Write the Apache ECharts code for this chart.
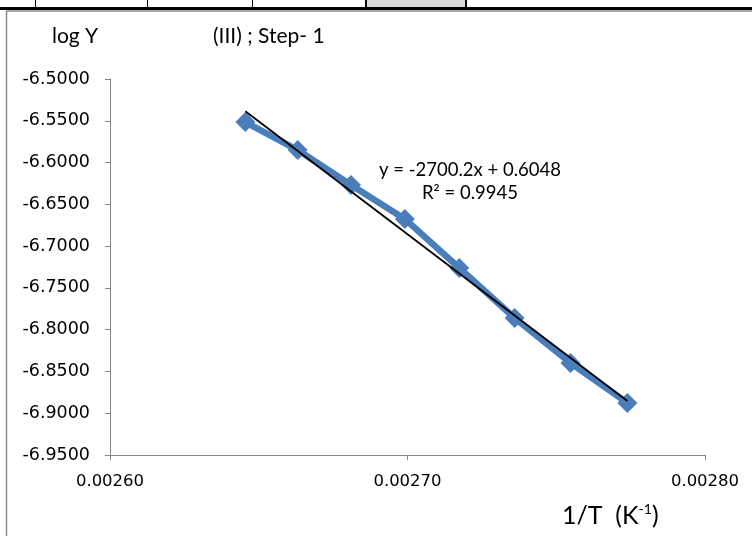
<!DOCTYPE html>
<html>
<head>
<meta charset="utf-8">
<script src="https://cdn.jsdelivr.net/npm/echarts@6/dist/echarts.min.js"></script>
<style>
  html, body { margin: 0; padding: 0; background: #fff; }
  #chart { width: 752px; height: 536px; }
</style>
</head>
<body>
<div id="chart"></div>
<script>
// values
const invT = [0.0026455, 0.0026631, 0.0026810, 0.0026991, 0.0027174, 0.0027360, 0.0027548, 0.0027739];
const logY = [-6.5515, -6.5850, -6.6269, -6.6675, -6.7262, -6.7860, -6.8399, -6.8877];

// linear trendline given on the chart
const trendSlope = -2700.2;
const trendIntercept = 0.6048;
const eqLine = 'y = -2700.2x + 0.6048';
const r2Line = 'R² = 0.9945';

const yTitle = 'log Y';
const chartTitle = '(III) ; Step- 1';

const blue = '#4a7ebb';
const axisGrey = '#868686';

const points = invT.map((x, i) => [x, logY[i]]);
const xFirst = invT[0];
const xLast = invT[invT.length - 1];
const trend = [
  [xFirst, trendSlope * xFirst + trendIntercept],
  [xLast, trendSlope * xLast + trendIntercept]
];

const chart = echarts.init(document.getElementById('chart'));

chart.setOption({
  backgroundColor: '#fff',
  animation: false,
  grid: {left: 110, top: 79, right: 47, bottom: 81},
  xAxis: {
    type: 'value',
    min: 0.0026,
    max: 0.0028,
    interval: 0.0001,
    splitLine: {show: false},
    axisLine: {show: true, lineStyle: {color: axisGrey, width: 1}},
    axisTick: {show: true, inside: false, length: 5, lineStyle: {color: axisGrey}},
    axisLabel: {
      margin: 18,
      color: '#000',
      fontFamily: 'DejaVu Sans',
      fontSize: 16.5,
      formatter: v => v.toFixed(5)
    }
  },
  yAxis: {
    type: 'value',
    min: -6.95,
    max: -6.5,
    interval: 0.05,
    splitLine: {show: false},
    axisLine: {show: true, lineStyle: {color: axisGrey, width: 1}},
    axisTick: {show: true, inside: false, length: 5, lineStyle: {color: axisGrey}},
    axisLabel: {
      margin: 20,
      color: '#000',
      fontFamily: 'DejaVu Sans',
      fontSize: 17.5,
      formatter: v => v.toFixed(4)
    }
  },
  series: [
    {
      type: 'line',
      data: points,
      symbol: 'diamond',
      symbolSize: 20,
      lineStyle: {color: blue, width: 6.5},
      itemStyle: {color: blue},
      z: 2
    },
    {
      type: 'line',
      data: trend,
      symbol: 'none',
      lineStyle: {color: '#000', width: 1.8},
      z: 3
    }
  ],
  graphic: [
    // table cells above the chart
    {type: 'rect', shape: {x: 366, y: 0, width: 100, height: 7}, style: {fill: '#d9d9d9'}},
    {type: 'line', shape: {x1: 0, y1: 8.5, x2: 752, y2: 8.5}, style: {stroke: '#000', lineWidth: 3}},
    {type: 'line', shape: {x1: 35.5, y1: 0, x2: 35.5, y2: 8}, style: {stroke: '#000', lineWidth: 1}},
    {type: 'line', shape: {x1: 147.5, y1: 0, x2: 147.5, y2: 8}, style: {stroke: '#000', lineWidth: 1}},
    {type: 'line', shape: {x1: 252.5, y1: 0, x2: 252.5, y2: 8}, style: {stroke: '#000', lineWidth: 1}},
    {type: 'line', shape: {x1: 366, y1: 0, x2: 366, y2: 8}, style: {stroke: '#000', lineWidth: 2}},
    {type: 'line', shape: {x1: 466, y1: 0, x2: 466, y2: 8}, style: {stroke: '#000', lineWidth: 2}},
    // chart frame
    {type: 'line', shape: {x1: 6, y1: 11, x2: 752, y2: 11}, style: {stroke: '#8c8c8c', lineWidth: 1.5}},
    {type: 'line', shape: {x1: 6.5, y1: 11, x2: 6.5, y2: 536}, style: {stroke: '#8c8c8c', lineWidth: 1.5}},
    // titles
    {type: 'text', left: 52, top: 26, style: {text: yTitle, fill: '#000', font: '21px Lato'}},
    {type: 'text', left: 213, top: 26, style: {text: chartTitle, fill: '#000', font: '21px Lato'}},
    // trendline label
    {type: 'text', x: 470, y: 170, style: {text: eqLine, fill: '#000', font: '18.5px Lato', align: 'center', verticalAlign: 'middle'}},
    {type: 'text', x: 470, y: 193, style: {text: r2Line, fill: '#000', font: '18.5px Lato', align: 'center', verticalAlign: 'middle'}},
    // x axis name
    {
      type: 'text', left: 562, top: 502,
      style: {
        text: '{a|1/T  (K}{s|-1}{a|)}',
        rich: {
          a: {fontFamily: 'Lato', fontSize: 25, fill: '#000', verticalAlign: 'bottom'},
          s: {fontFamily: 'Lato', fontSize: 14, fill: '#000', padding: [0, 0, 12, 0], verticalAlign: 'bottom'}
        }
      }
    }
  ]
});
</script>
</body>
</html>
